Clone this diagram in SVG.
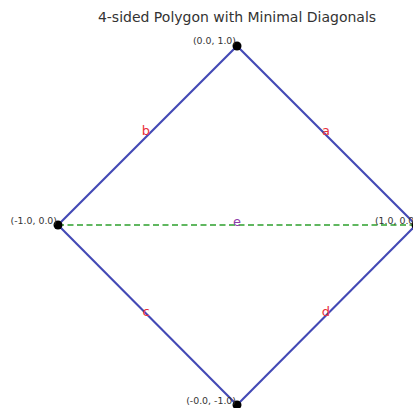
<svg xmlns="http://www.w3.org/2000/svg" width="413" height="408" viewBox="0 0 413 408">
<style>
.edge{stroke:#4349b5;stroke-width:2.1;fill:none}
.diag{stroke:#2ca02c;stroke-width:1.6;stroke-dasharray:6,3.5;fill:none}
.vlab{font-family:"DejaVu Sans",sans-serif;font-size:9.4px;fill:#333;text-anchor:end}
.elab{font-family:"DejaVu Sans",sans-serif;font-size:13px;fill:#e8303a;text-anchor:middle}
.title{font-family:"DejaVu Sans",sans-serif;font-size:14px;fill:#333;text-anchor:middle}
</style>
<rect width="413" height="408" fill="#fff"/>
<text class="title" x="237" y="22">4-sided Polygon with Minimal Diagonals</text>
<g id="connectors">
<line class="edge" x1="416" y1="225" x2="237" y2="46"/>
<line class="edge" x1="237" y1="46" x2="58" y2="225"/>
<line class="edge" x1="58" y1="225" x2="237" y2="405"/>
<line class="edge" x1="237" y1="405" x2="416" y2="225"/>
<line class="diag" x1="58" y1="225" x2="416" y2="225"/>
<text class="elab" x="326" y="135">a</text>
<text class="elab" x="146" y="135">b</text>
<text class="elab" x="146" y="316">c</text>
<text class="elab" x="326" y="316">d</text>
<text class="elab" x="237" y="226" style="fill:#8e3fa8">e</text>
</g>
<g id="v-top"><circle cx="237" cy="46" r="4.5" fill="#000"/><text class="vlab" x="236" y="44">(0.0, 1.0)</text></g>
<g id="v-left"><circle cx="58" cy="225" r="4.5" fill="#000"/><text class="vlab" x="57" y="224">(-1.0, 0.0)</text></g>
<g id="v-right"><circle cx="416" cy="225" r="4.5" fill="#000"/><text class="vlab" x="418" y="224">(1.0, 0.0)</text></g>
<g id="v-bottom"><circle cx="237" cy="405" r="4.5" fill="#000"/><text class="vlab" x="236" y="404">(-0.0, -1.0)</text></g>
</svg>
